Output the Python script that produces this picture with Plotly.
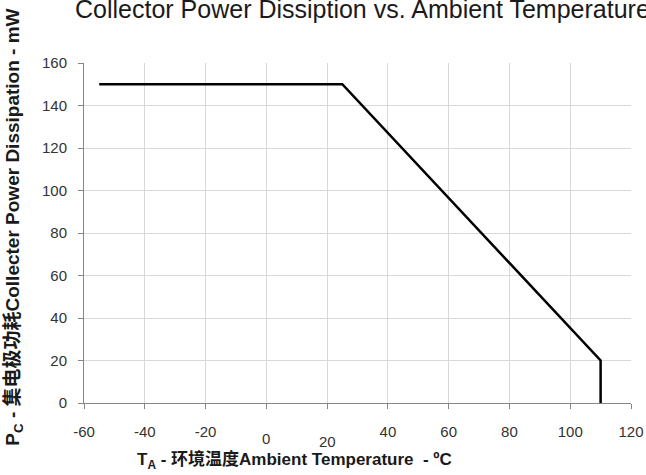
import plotly.graph_objects as go

# Derating curve
temp_c = [-55, 25, 110, 110]
power_mw = [150, 150, 20, 0]

x_ticks = [-60, -40, -20, 0, 20, 40, 60, 80, 100, 120]
x_tick_text = ["-60", "-40", "-20", "", "", "40", "60", "80", "100", "120"]
# the 0 and 20 labels sit a little lower in the original chart
low_ticks = [0, 20]
low_tick_text = ["0", "20"]
low_tick_drop = [5, 8]
y_ticks = [0, 20, 40, 60, 80, 100, 120, 140, 160]

font_txt = "Liberation Sans, Noto Sans CJK SC, sans-serif"
tick_font = dict(family=font_txt, size=15, color="#333333")

fig = go.Figure()
fig.add_trace(go.Scatter(
    x=temp_c, y=power_mw, mode="lines",
    line=dict(color="black", width=2.5),
    showlegend=False, hoverinfo="skip",
))

axis_style = dict(
    showline=True, linecolor="#868686", linewidth=1,
    showgrid=True, gridcolor="#d9d9d9", gridwidth=1,
    ticks="outside", ticklen=5, tickcolor="#868686",
    tickfont=tick_font, zeroline=False, automargin=False,
)

annots = [
    dict(
        text="T<sub>A</sub> - 环境温度Ambient Temperature  - ºC",
        xref="paper", yref="paper", x=0.384, y=-0.17,
        xanchor="center", yanchor="middle", showarrow=False,
        font=dict(family=font_txt, size=17, color="#1a1a1a", weight="bold"),
    ),
    dict(
        text="P<sub>C</sub> - 集电极功耗Collecter Power Dissipation - mW",
        xref="paper", yref="paper", x=-0.128, y=-0.13,
        xanchor="center", yanchor="bottom", textangle=-90, showarrow=False,
        font=dict(family=font_txt, size=19, color="#1a1a1a", weight="bold"),
    ),
]
for xv, txt, drop in zip(low_ticks, low_tick_text, low_tick_drop):
    annots.append(dict(
        text=txt, x=xv, xref="x", y=0, yref="paper",
        xanchor="center", yanchor="top", yshift=-(20 + drop),
        showarrow=False, font=tick_font,
    ))

fig.update_layout(
    width=646, height=475,
    margin=dict(l=84, r=15, t=63, b=72),
    plot_bgcolor="white", paper_bgcolor="white",
    title=dict(
        text="Collector Power Dissiption vs. Ambient Temperature",
        font=dict(family=font_txt, size=25, color="#1a1a1a"),
        x=75 / 646, xanchor="left", xref="container",
        y=1 - 9 / 475, yanchor="middle", yref="container",
    ),
    xaxis=dict(range=[-60, 120], tickvals=x_ticks, ticktext=x_tick_text,
               ticklabelstandoff=10, **axis_style),
    yaxis=dict(range=[0, 160], tickvals=y_ticks, ticklabelstandoff=8, **axis_style),
    annotations=annots,
)

fig.write_html("out.html", config={"displayModeBar": False},
               post_script="document.body.style.margin='0';")
